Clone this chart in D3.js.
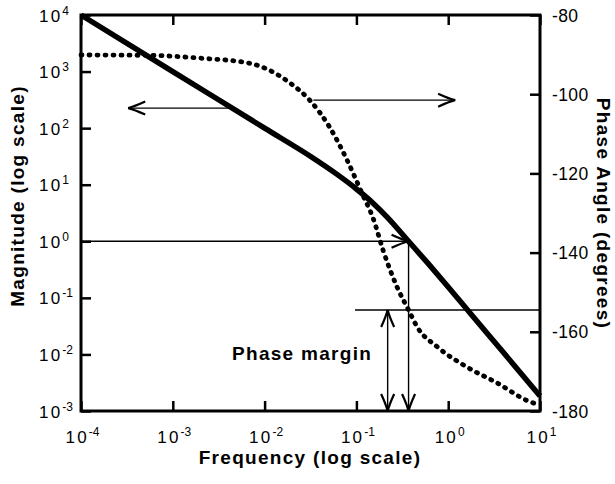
<!DOCTYPE html>
<html><head><meta charset="utf-8">
<script src="https://cdn.jsdelivr.net/npm/d3@7"></script>
<style>body{margin:0;background:#fff} svg{display:block}</style>
</head><body><svg id="c" width="615" height="484"></svg>
<script>
// ---- data ----
const magFreq   = [1e-4, 1e-3, 0.01, 0.034, 0.06, 0.1, 0.15, 0.22, 0.36, 0.6, 1, 1.73, 4, 10];
const magValues = [1e4, 1000, 100, 29.4, 15.7, 8.4, 4.81, 2.6, 1.05, 0.41, 0.156, 0.054, 0.0108, 0.00184];
const phaseFreq   = [1e-4, 5.6e-4, 2e-3, 6.9e-3, 0.0158, 0.019, 0.031, 0.051, 0.079, 0.115, 0.153, 0.196, 0.275, 0.37, 0.46, 0.76, 1.6, 3.4, 7.8, 10];
const phaseValues = [-90.1, -90.2, -90.9, -92.2, -95.9, -97.2, -101.5, -108.3, -116.6, -125, -131.5, -139.5, -148.5, -154.5, -158.8, -163.8, -168.9, -172.9, -177.7, -178.5];
const xTickValues = [1e-4, 1e-3, 1e-2, 1e-1, 1, 10];
const xTickExponents = ["-4", "-3", "-2", "-1", "0", "1"];
const magTickValues = [1e-3, 1e-2, 1e-1, 1, 10, 100, 1000, 1e4];
const magTickExponents = ["-3", "-2", "-1", "0", "1", "2", "3", "4"];
const phaseTickValues = [-180, -160, -140, -120, -100, -80];
const phaseTickLabels = ["-180", "-160", "-140", "-120", "-100", "-80"];
const crossoverFreq = 0.37;
const phaseAtCrossover = -154.5;
const marginLineStartFreq = 0.0966;
const marginArrowFreq = 0.219;
const leftArrowMag = 226, leftArrowFreqs = [4.4e-3, 3.27e-4];
const rightArrowPhase = -101.5, rightArrowFreqs = [0.034, 1.19];
const labels = {x: "Frequency (log scale)", yLeft: "Magnitude (log scale)", yRight: "Phase Angle (degrees)", margin: "Phase margin"};

// ---- layout ----
const L = 81, R = 540, T = 15, B = 411;
const FONT = "'Liberation Sans', Arial, Helvetica, sans-serif";
const svg = d3.select("#c");
const x = d3.scaleLog().domain([1e-4, 10]).range([L, R]);
const yMag = d3.scaleLog().domain([1e-3, 1e4]).range([B, T]);
const yPh = d3.scaleLinear().domain([-180, -80]).range([B, T]);

function styleAxis(g) {
  g.select(".domain").remove();
  g.selectAll(".tick line").attr("stroke", "#000").attr("stroke-width", 2.5);
}
const gL = svg.append("g").attr("transform", `translate(${L},0)`)
  .call(d3.axisLeft(yMag).tickValues(magTickValues).tickSize(-10).tickSizeOuter(0)).call(styleAxis);
gL.selectAll(".tick text").each(function(d, i) {
  const t = d3.select(this).text(null).attr("x", 39 - L).attr("dy", null).attr("y", 6)
    .attr("text-anchor", "start").attr("font-family", FONT).attr("font-size", 17).attr("fill", "#000");
  t.append("tspan").attr("letter-spacing", 2.2).text("10");
  t.append("tspan").attr("dy", -7).attr("font-size", 12).text(magTickExponents[i]);
});
const gB = svg.append("g").attr("transform", `translate(0,${B})`)
  .call(d3.axisBottom(x).tickValues(xTickValues).tickSize(-10).tickSizeOuter(0)).call(styleAxis);
gB.selectAll(".tick text").each(function(d, i) {
  const t = d3.select(this).text(null).attr("x", 1).attr("dy", null).attr("y", 31.5)
    .attr("text-anchor", "middle").attr("font-family", FONT).attr("font-size", 17).attr("fill", "#000");
  t.append("tspan").attr("letter-spacing", 2.2).text("10");
  t.append("tspan").attr("dy", -7).attr("font-size", 12).text(xTickExponents[i]);
});
svg.append("g").attr("transform", `translate(0,${T})`)
  .call(d3.axisTop(x).tickValues(xTickValues).tickSize(-10).tickSizeOuter(0).tickFormat(""))
  .call(styleAxis);
const gR = svg.append("g").attr("transform", `translate(${R},0)`)
  .call(d3.axisRight(yPh).tickValues(phaseTickValues).tickSize(-10).tickSizeOuter(0).tickPadding(12)
    .tickFormat((d, i) => phaseTickLabels[i]))
  .call(styleAxis);
gR.selectAll(".tick text").attr("font-family", FONT).attr("font-size", 17.5).attr("letter-spacing", 0.4)
  .attr("fill", "#000").attr("dy", null).attr("y", 6);

// frame
svg.append("rect").attr("x", L).attr("y", T).attr("width", R - L).attr("height", B - T)
  .attr("fill", "none").attr("stroke", "#000").attr("stroke-width", 3);

// phase curve (dotted)
const phasePts = phaseFreq.map((f, i) => [x(f), yPh(phaseValues[i])]);
svg.append("path").attr("d", d3.line().curve(d3.curveMonotoneX)(phasePts))
  .attr("fill", "none").attr("stroke", "#000").attr("stroke-width", 4.8)
  .attr("stroke-linecap", "round").attr("stroke-dasharray", "1 7");

// magnitude curve (solid)
const magPts = magFreq.map((f, i) => [x(f), yMag(magValues[i])]);
svg.append("path").attr("d", d3.line().curve(d3.curveMonotoneX)(magPts))
  .attr("fill", "none").attr("stroke", "#000").attr("stroke-width", 5.5);

// annotation helpers
function head(tx, ty, fx, fy) {
  const dx = tx - fx, dy = ty - fy, len = Math.hypot(dx, dy);
  const ux = dx / len, uy = dy / len, nx = -uy, ny = ux;
  const hl = 17, hw = 6.5;
  const b1 = [tx - ux * hl + nx * hw, ty - uy * hl + ny * hw];
  const b2 = [tx - ux * hl - nx * hw, ty - uy * hl - ny * hw];
  svg.append("path").attr("d", `M${b1}Q${tx - ux * 6 + nx * 1.5},${ty - uy * 6 + ny * 1.5} ${tx},${ty}Q${tx - ux * 6 - nx * 1.5},${ty - uy * 6 - ny * 1.5} ${b2}`)
    .attr("fill", "none").attr("stroke", "#000").attr("stroke-width", 2.2).attr("stroke-linejoin", "miter");
}
function arrow(x1, y1, x2, y2, endHead, startHead) {
  svg.append("line").attr("x1", x1).attr("y1", y1).attr("x2", x2).attr("y2", y2)
    .attr("stroke", "#000").attr("stroke-width", 1.4);
  if (endHead) head(x2, y2, x1, y1);
  if (startHead) head(x1, y1, x2, y2);
}

arrow(x(leftArrowFreqs[0]), yMag(leftArrowMag), x(leftArrowFreqs[1]), yMag(leftArrowMag), true, false);
arrow(x(rightArrowFreqs[0]), yPh(rightArrowPhase), x(rightArrowFreqs[1]), yPh(rightArrowPhase), true, false);
arrow(x(1e-4), yMag(1), x(crossoverFreq), yMag(1), true, false);
arrow(x(crossoverFreq), yMag(1), x(crossoverFreq), yMag(1e-3), true, false);
arrow(x(marginLineStartFreq), yPh(phaseAtCrossover), x(10), yPh(phaseAtCrossover), false, false);
arrow(x(marginArrowFreq), yPh(phaseAtCrossover), x(marginArrowFreq), yPh(-180), true, true);

// texts
const boldText = (t) => t.attr("font-family", FONT).attr("font-weight", "bold").attr("font-size", 19)
  .attr("letter-spacing", 1.3).attr("fill", "#000");
svg.append("text").attr("x", 232).attr("y", 360).text(labels.margin).call(boldText);
svg.append("text").attr("x", 310).attr("y", 464).attr("text-anchor", "middle").text(labels.x).call(boldText);
svg.append("text").attr("transform", "translate(24,196) rotate(-90)").attr("text-anchor", "middle")
  .text(labels.yLeft).call(boldText);
svg.append("text").attr("transform", "translate(597,213.5) rotate(90)").attr("text-anchor", "middle")
  .text(labels.yRight).call(boldText);
</script>
</body></html>
